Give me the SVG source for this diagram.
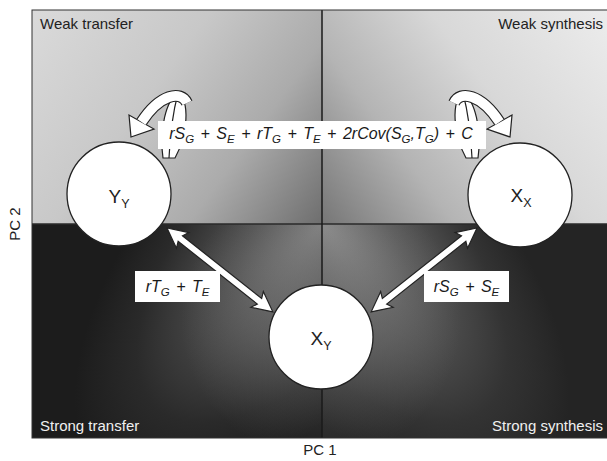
<svg xmlns="http://www.w3.org/2000/svg" xmlns:xlink="http://www.w3.org/1999/xlink" width="607" height="461" viewBox="0 0 607 461">
<style>
.t{font-family:"Liberation Sans",Arial,sans-serif;font-size:15px}
.dk{fill:#222}
.lt{fill:#f0f0f0}
.f{font-family:"Liberation Sans",Arial,sans-serif;font-style:italic;font-size:16px;fill:#1a1a1a;word-spacing:2px}
.s{font-size:11.5px}
.n{font-family:"Liberation Sans",Arial,sans-serif;font-size:19px;fill:#222;text-anchor:middle}
.ns{font-size:12.5px}
.node{fill:#fff;stroke:#222;stroke-width:1.3}
.box{fill:#fff}
.arr{fill:#fff;stroke:#222;stroke-width:1.2;stroke-linejoin:miter}
.rib{fill:#fff;stroke:#222;stroke-width:1.2}
.ribl{fill:none;stroke:#222;stroke-width:1.2}
.bo{fill:none;stroke:#222;stroke-width:12}
.bi{fill:none;stroke:#fff;stroke-width:9.6}
</style>
<defs>
<linearGradient id="gTL" gradientUnits="userSpaceOnUse" x1="32" y1="10" x2="322" y2="224">
<stop offset="0" stop-color="#dadada"/><stop offset="0.4" stop-color="#c8c8c8"/><stop offset="0.7" stop-color="#ababab"/><stop offset="1" stop-color="#6e6e6e"/>
</linearGradient>
<linearGradient id="gTR" gradientUnits="userSpaceOnUse" x1="607" y1="10" x2="322" y2="224">
<stop offset="0" stop-color="#ececec"/><stop offset="0.4" stop-color="#d8d8d8"/><stop offset="0.7" stop-color="#b4b4b4"/><stop offset="1" stop-color="#767676"/>
</linearGradient>
<radialGradient id="gBL" gradientUnits="userSpaceOnUse" cx="0" cy="0" r="1" gradientTransform="translate(322 224) rotate(132) scale(330 150)">
<stop offset="0" stop-color="#828282"/><stop offset="0.35" stop-color="#555"/><stop offset="0.75" stop-color="#2a2a2a"/><stop offset="1" stop-color="#1c1c1c"/>
</radialGradient>
<radialGradient id="gBR" gradientUnits="userSpaceOnUse" cx="0" cy="0" r="1" gradientTransform="translate(322 224) rotate(48) scale(330 150)">
<stop offset="0" stop-color="#8e8e8e"/><stop offset="0.35" stop-color="#5e5e5e"/><stop offset="0.75" stop-color="#333"/><stop offset="1" stop-color="#242424"/>
</radialGradient>
<radialGradient id="gGlow" gradientUnits="userSpaceOnUse" cx="321" cy="320" r="140">
<stop offset="0.3" stop-color="#808080" stop-opacity="0.35"/><stop offset="1" stop-color="#808080" stop-opacity="0"/>
</radialGradient>
<polygon id="dbl" points="0,0 20,-10 17,-3.5 118,-3.5 115,-10 135,0 115,10 118,3.5 17,3.5 20,10"/>
<g id="loop">
<path class="rib" d="M163,158 C159,130 166,100 178,93 C190,101 188,134 175,158 Z"/>
<path class="ribl" d="M178,93 C173,112 170,136 169,158"/>
<path class="bo" d="M187,103 C181,90 160,94 141.5,122"/>
<polygon class="arr" points="131,137 129,115 154,129"/>
<path class="bi" d="M187,103 C181,90 160,94 141.5,122"/>
</g>
</defs>

<g id="background">
<rect x="32" y="10" width="290" height="214" fill="url(#gTL)"/>
<rect x="322" y="10" width="285" height="214" fill="url(#gTR)"/>
<rect x="32" y="224" width="290" height="214" fill="url(#gBL)"/>
<rect x="322" y="224" width="285" height="214" fill="url(#gBR)"/>
<rect x="32" y="224" width="575" height="214" fill="url(#gGlow)"/>
<line x1="32" y1="224" x2="607" y2="224" stroke="#2a2a2a" stroke-width="1.5"/>
<line x1="322" y1="10" x2="322" y2="438" stroke="#1a1a1a" stroke-width="1.5"/>
<rect x="32" y="10" width="580" height="428" fill="none" stroke="#333" stroke-width="1"/>
</g>

<g id="quadrant-labels">
<text class="t dk" x="40" y="29">Weak transfer</text>
<text class="t dk" x="603" y="29" text-anchor="end">Weak synthesis</text>
<text class="t lt" x="40" y="431">Strong transfer</text>
<text class="t lt" x="603" y="431" text-anchor="end">Strong synthesis</text>
<text class="t dk" x="320" y="455" text-anchor="middle">PC 1</text>
<text class="t dk" transform="translate(20 224) rotate(-90)" text-anchor="middle">PC 2</text>
</g>

<g id="connectors">
<use xlink:href="#loop" href="#loop"/>
<use xlink:href="#loop" href="#loop" transform="translate(641 0) scale(-1 1)"/>
<use class="arr" xlink:href="#dbl" href="#dbl" transform="translate(167 228) rotate(38.4)"/>
<use class="arr" xlink:href="#dbl" href="#dbl" transform="translate(477 228) rotate(141.6)"/>
</g>

<g id="edge-labels">
<rect class="box" x="158" y="121" width="328" height="28"/>
<text class="f" x="321" y="139" text-anchor="middle">rS<tspan class="s" dy="3.5">G</tspan><tspan dy="-3.5"> + S</tspan><tspan class="s" dy="3.5">E</tspan><tspan dy="-3.5"> + rT</tspan><tspan class="s" dy="3.5">G</tspan><tspan dy="-3.5"> + T</tspan><tspan class="s" dy="3.5">E</tspan><tspan dy="-3.5"> + 2rCov(S</tspan><tspan class="s" dy="3.5">G</tspan><tspan dy="-3.5">,T</tspan><tspan class="s" dy="3.5">G</tspan><tspan dy="-3.5">) + C</tspan></text>
<rect class="box" x="135" y="271" width="85" height="31"/>
<text class="f" x="177.5" y="292" text-anchor="middle">rT<tspan class="s" dy="3.5">G</tspan><tspan dy="-3.5"> + T</tspan><tspan class="s" dy="3.5">E</tspan></text>
<rect class="box" x="424" y="271" width="85" height="31"/>
<text class="f" x="466.5" y="292" text-anchor="middle">rS<tspan class="s" dy="3.5">G</tspan><tspan dy="-3.5"> + S</tspan><tspan class="s" dy="3.5">E</tspan></text>
</g>

<g id="node-YY">
<circle class="node" cx="119" cy="194" r="52"/>
<text class="n" x="119" y="203">Y<tspan class="ns" dy="4.5">Y</tspan></text>
</g>
<g id="node-XX">
<circle class="node" cx="520" cy="195" r="52"/>
<text class="n" x="521" y="202">X<tspan class="ns" dy="4.5">X</tspan></text>
</g>
<g id="node-XY">
<circle class="node" cx="321" cy="337" r="52"/>
<text class="n" x="321" y="345">X<tspan class="ns" dy="4.5">Y</tspan></text>
</g>
</svg>
